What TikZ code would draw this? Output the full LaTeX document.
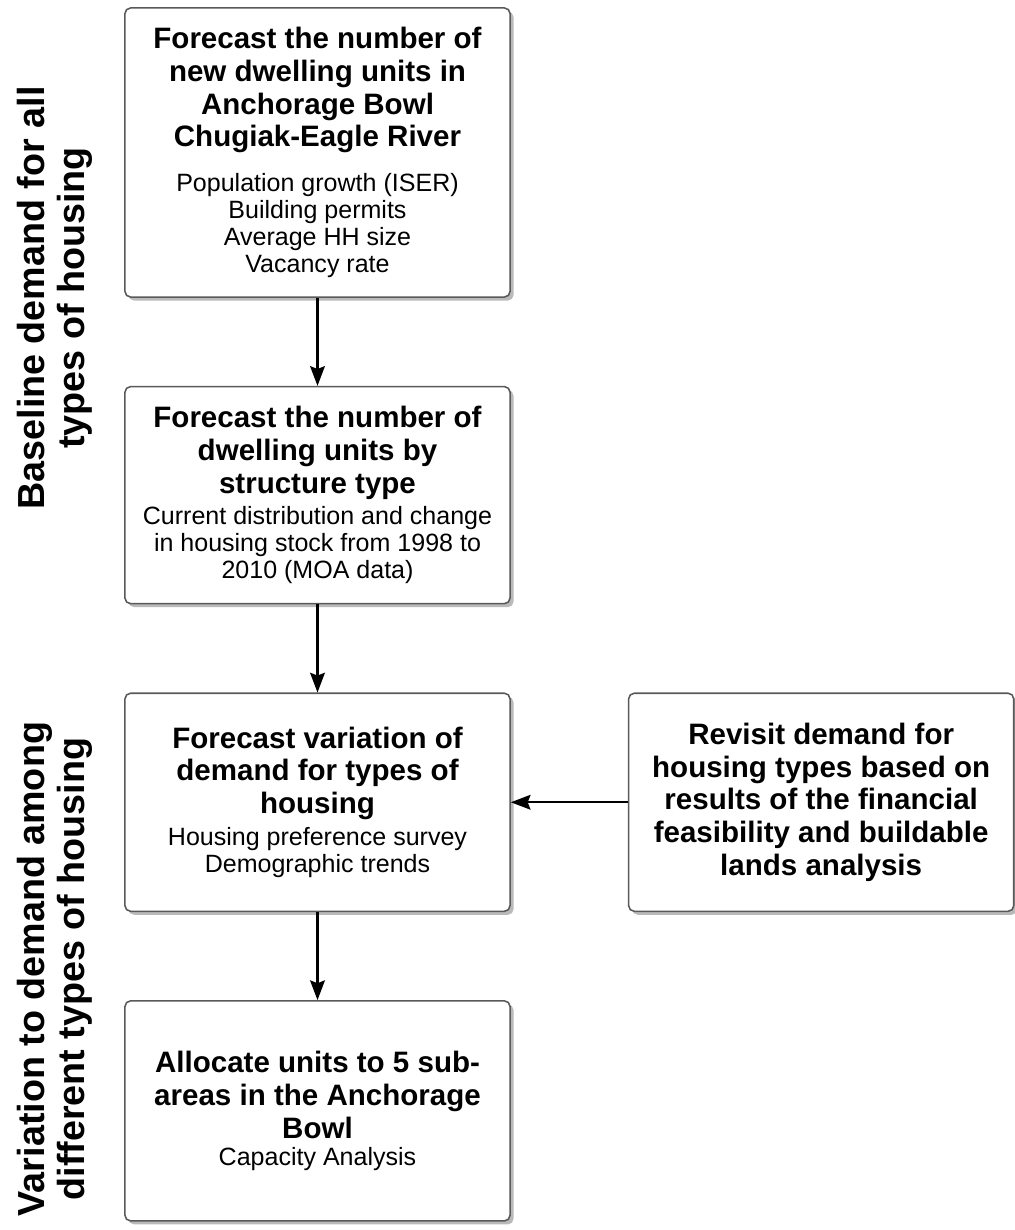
\documentclass[tikz,border=0pt]{standalone}
\usepackage{fontspec}
\setmainfont{Liberation Sans}
\usepackage{tikz}
\usetikzlibrary{arrows.meta, positioning, shadows}

\newcommand{\fixspace}{\spaceskip=\fontdimen2\font\relax\xspaceskip=\fontdimen2\font\relax}
\newcommand{\headfont}{\fontsize{21}{23.4}\selectfont\bfseries\fixspace}
\newcommand{\detfont}{\fontsize{17.8}{19.4}\selectfont\fixspace}
\newcommand{\sidefont}{\fontsize{26.8}{28.6}\selectfont\bfseries\fixspace}

\begin{document}
\begin{tikzpicture}[
    x=0.025cm, y=-0.025cm,
    node distance=2.2cm and 2.925cm,
    stepbox/.style={rectangle, rounded corners=4pt, draw=black!65, line width=1.1pt, fill=white,
        minimum width=9.625cm, text width=9.2cm, align=center,
        drop shadow={shadow xshift=2.5pt, shadow yshift=-2.5pt, fill=black!45, opacity=0.6}},
    sidelabel/.style={rotate=90, align=center, font=\sidefont},
    arrow/.style={line width=1.5pt, -{Stealth[length=14pt, width=10.5pt, inset=2pt]}}
]

\useasboundingbox (0,0) rectangle (1014,1230);

\node[stepbox, minimum height=7.225cm] (forecast) at (317.5,152.5)
    {{\headfont Forecast the number of\\new dwelling units in\\Anchorage Bowl\\Chugiak-Eagle River\par}
     \vspace{12pt}
     {\detfont Population growth (ISER)\\Building permits\\Average HH size\\Vacancy rate\par}};
\node[stepbox, minimum height=5.425cm, below=of forecast] (structure)
    {{\headfont Forecast the number of\\dwelling units by\\structure type\par}
     \vspace{2.5pt}
     {\detfont Current distribution and change\\in housing stock from 1998 to\\2010 (MOA data)\par}};
\node[stepbox, minimum height=5.45cm, below=of structure] (variation)
    {{\headfont Forecast variation of\\demand for types of\\housing\par}
     \vspace{3pt}
     {\detfont Housing preference survey\\Demographic trends\par}};
\node[stepbox, minimum height=5.5cm, below=of variation] (allocate)
    {{\headfont Allocate units to 5 sub-\\areas in the Anchorage\\Bowl\par}
     {\detfont Capacity Analysis\par}\vspace*{10pt}};
\node[stepbox, minimum height=5.45cm, right=of variation] (revisit)
    {{\headfont Revisit demand for\\housing types based on\\results of the financial\\feasibility and buildable\\lands analysis\par}};

% phase labels
\node[sidelabel] (baseline) at (55,298) {Baseline demand for all\\types of housing};
\node[sidelabel] (among) at (55,969) {Variation to demand among\\different types of housing};

\draw[arrow] (forecast) -- (structure);
\draw[arrow] (structure) -- (variation);
\draw[arrow] (variation) -- (allocate);
\draw[arrow] (revisit) -- (variation);

\end{tikzpicture}
\end{document}
